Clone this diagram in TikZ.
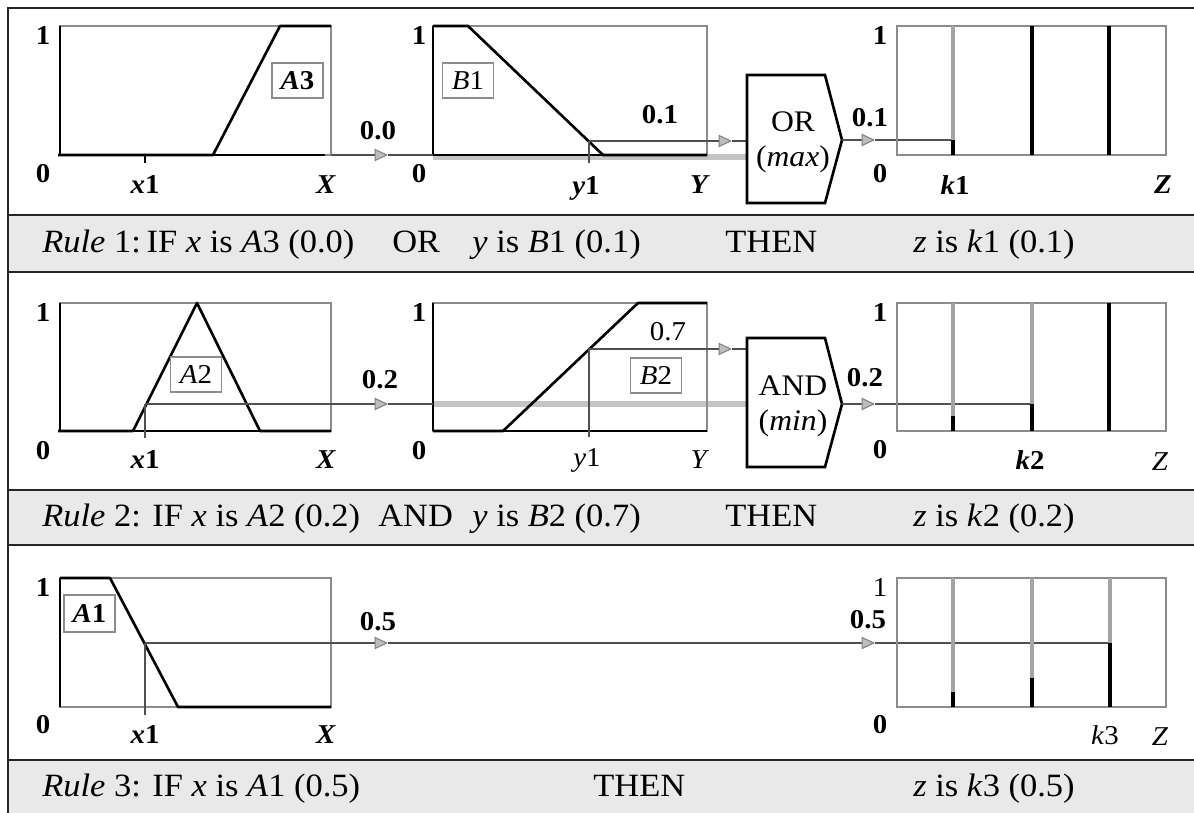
\documentclass[tikz,border=0pt]{standalone}
\usepackage{fontspec}
\setmainfont{Liberation Serif}
\usetikzlibrary{arrows.meta}
\newcommand{\wx}[1]{\scalebox{1.06}[1]{#1}}
\definecolor{bandgray}{HTML}{E9E9E9}
\definecolor{boxgray}{HTML}{8C8C8C}
\definecolor{singlegray}{HTML}{A4A4A4}
\definecolor{pathgray}{HTML}{C4C4C4}
\definecolor{tipgray}{HTML}{BDBDBD}
\definecolor{conngray}{HTML}{505050}
\tikzset{
  frameline/.style={draw=black!85,line width=1.6pt},
  plotbox/.style={draw=boxgray,line width=0.6pt},
  yaxis/.style={draw=black,line width=0.8pt},
  mf/.style={draw=black,line width=1.5pt,line join=round},
  thinaxis/.style={draw=black,line width=0.8pt},
  singg/.style={draw=singlegray,line width=2.4pt},
  singb/.style={draw=black,line width=2.4pt},
  conn/.style={draw=conngray,line width=0.6pt},
  flow/.style={conn,-{Triangle[length=0.27cm,width=0.25cm,fill=tipgray,color=gray]}},
  inband/.style={draw=pathgray,line width=3.2pt},
  gate/.style={draw=black,line width=1.5pt,line join=miter},
  lab/.style={inner sep=0pt,font=\fontsize{15.5}{17}\selectfont\bfseries},
  labr/.style={inner sep=0pt,font=\fontsize{15.5}{17}\selectfont},
  tagbox/.style={draw=boxgray,line width=0.6pt,inner sep=0pt,minimum width=1.02cm,minimum height=0.7cm,font=\fontsize{15.5}{18}\selectfont},
  gatetext/.style={align=center,inner sep=0pt,font=\fontsize{17}{20}\selectfont},
  bandtext/.style={anchor=base west,inner sep=0pt,font=\fontsize{18.5}{21}\selectfont}
}
\begin{document}
\begin{tikzpicture}[x=0.02cm,y=-0.02cm]
\useasboundingbox (0,0) rectangle (1194,813);
% bands
\fill[bandgray] (8,215) rectangle (1194,272);
\fill[bandgray] (8,490) rectangle (1194,545);
\fill[bandgray] (8,760) rectangle (1194,813);
\draw[frameline] (1194,8) -- (8,8) -- (8,813);
\foreach \yy in {215,272,490,545,760} \draw[frameline] (8,\yy) -- (1194,\yy);

% ================= ROW 1 =================
% A3 plot
\draw[plotbox] (60,26) rectangle (331,155);
\draw[yaxis] (60,26) -- (60,155);
\draw[thinaxis] (213,155) -- (325,155);
\draw[mf] (58,155) -- (213,155) -- (280,26) -- (331,26);
\draw[thinaxis] (145,155) -- (145,163);
\node[lab] (r1a1) at (43,36) {\wx{1}};
\node[lab] (r1a0) at (43,174) {\wx{0}};
\node[lab] (r1ax) at (145,185) {\wx{\textit{x}1}};
\node[lab] (r1aX) at (326,185) {\wx{\textit{X}}};
\node[tagbox] (tagA3) at (297.5,80.5) {\wx{\textbf{\textit{A}3}}};
% B1 plot
\draw[inband] (433,157) -- (747,157);
\draw[plotbox] (433,26) rectangle (707,155);
\draw[yaxis] (433,26) -- (433,155);
\draw[thinaxis] (433,155) -- (603,155);
\draw[mf] (433,26) -- (468,26) -- (603,155) -- (707,155);
\node[lab] (r1b1) at (419,36) {\wx{1}};
\node[lab] (r1b0) at (419,174) {\wx{0}};
\node[lab] (r1by) at (586,188) {\wx{\textit{y}1}};
\node[lab] (r1bY) at (700,185) {\wx{\textit{Y}}};
\node[tagbox] (tagB1) at (468,80.5) {\wx{\textit{B}1}};
\coordinate (r1ain) at (331,155);
\coordinate (r1atip) at (388,155);
\coordinate (r1bleft) at (433,155);
\coordinate (r1yfoot) at (589,163);
\coordinate (r1ycut) at (589,141);
\coordinate (r1btip) at (732,141);
\coordinate (orin) at (747,141);
\draw[flow] (r1ain) -- (r1atip);
\draw[conn] (r1atip) -- (r1bleft);
\draw[conn] (r1yfoot) -- (r1ycut);
\draw[flow] (r1ycut) -- (r1btip);
\draw[conn] (r1btip) -- (orin);
\node[lab] (v00) at (378,131) {\wx{0.0}};
\node[lab] (v01a) at (660,115) {\wx{0.1}};
% OR gate
\draw[gate] (747,75) -- (825,75) -- (842,140) -- (825,203) -- (747,203) -- cycle;
\node[gatetext] (orgate) at (793,142) {\wx{OR}\\\wx{(\textit{max})}};
\coordinate (orout) at (842,140);
\coordinate (ortip) at (875,140);
\coordinate (k1cut) at (953,140);
\draw[flow] (orout) -- (ortip);
\draw[conn] (ortip) -- (k1cut);
\node[lab] (v01b) at (870,118) {\wx{0.1}};
% Z plot
\draw[plotbox] (897,26) rectangle (1166,155);
\draw[singg] (953,26) -- (953,140);
\draw[singb] (953,140) -- (953,155);
\draw[singb] (1032,26) -- (1032,155);
\draw[singb] (1109,26) -- (1109,155);
\node[lab] (r1z1) at (880,36) {\wx{1}};
\node[lab] (r1z0) at (880,174) {\wx{0}};
\node[lab] (r1k) at (955,185) {\wx{\textit{k}1}};
\node[lab] (r1Z) at (1163,185) {\wx{\textit{Z}}};
% band text
\node[bandtext] (t1a) at (42,253) {\wx{\textit{Rule} 1:\,IF \textit{x} is \textit{A}3 (0.0)}};
\node[bandtext] (t1b) at (392,253) {\wx{OR}};
\node[bandtext] (t1c) at (472,253) {\wx{\textit{y} is \textit{B}1 (0.1)}};
\node[bandtext] (t1d) at (725,253) {\wx{THEN}};
\node[bandtext] (t1e) at (913,253) {\wx{\textit{z} is \textit{k}1 (0.1)}};

% ================= ROW 2 =================
\draw[plotbox] (60,303) rectangle (331,431);
\draw[yaxis] (60,303) -- (60,431);
\draw[thinaxis] (133,431) -- (260,431);
\draw[mf] (58,431) -- (133,431) -- (197,303) -- (260,431) -- (331,431);
\node[lab] (r2a1) at (43,313) {\wx{1}};
\node[lab] (r2a0) at (43,451) {\wx{0}};
\node[lab] (r2ax) at (145,460) {\wx{\textit{x}1}};
\node[lab] (r2aX) at (326,460) {\wx{\textit{X}}};
\node[tagbox] (tagA2) at (196,374.5) {\wx{\textit{A}2}};
% B2 plot
\draw[inband] (433,404) -- (747,404);
\draw[plotbox] (433,303) rectangle (707,431);
\draw[yaxis] (433,303) -- (433,431);
\draw[thinaxis] (503,431) -- (707,431);
\draw[mf] (433,431) -- (503,431) -- (638,303) -- (707,303);
\node[lab] (r2b1) at (419,313) {\wx{1}};
\node[lab] (r2b0) at (419,451) {\wx{0}};
\node[labr] (r2by) at (587,460) {\wx{\textit{y}1}};
\node[labr] (r2bY) at (700,460) {\wx{\textit{Y}}};
\node[tagbox] (tagB2) at (656,375.5) {\wx{\textit{B}2}};
\coordinate (r2xfoot) at (145,438);
\coordinate (r2xcut) at (145,404);
\coordinate (r2atip) at (388,404);
\coordinate (r2bleft) at (433,404);
\coordinate (r2yfoot) at (589,437);
\coordinate (r2ycut) at (589,349);
\coordinate (r2btip) at (732,349);
\coordinate (andin) at (747,349);
\draw[conn] (r2xfoot) -- (r2xcut);
\draw[flow] (r2xcut) -- (r2atip);
\draw[conn] (r2atip) -- (r2bleft);
\draw[conn] (r2yfoot) -- (r2ycut);
\draw[flow] (r2ycut) -- (r2btip);
\draw[conn] (r2btip) -- (andin);
\node[lab] (v02a) at (380,380) {\wx{0.2}};
\node[labr] (v07) at (668,332) {\wx{0.7}};
% AND gate
\draw[gate] (747,338) -- (825,338) -- (842,404) -- (825,467) -- (747,467) -- cycle;
\node[gatetext] (andgate) at (793,406) {\wx{AND}\\\wx{(\textit{min})}};
\coordinate (andout) at (842,404);
\coordinate (andtip) at (875,404);
\coordinate (k2cut) at (1032,404);
\draw[flow] (andout) -- (andtip);
\draw[conn] (andtip) -- (k2cut);
\node[lab] (v02b) at (865,378) {\wx{0.2}};
% Z plot
\draw[plotbox] (897,303) rectangle (1166,431);
\draw[singg] (953,303) -- (953,416);
\draw[singb] (953,416) -- (953,431);
\draw[singg] (1032,303) -- (1032,404);
\draw[singb] (1032,404) -- (1032,431);
\draw[singb] (1109,303) -- (1109,431);
\node[lab] (r2z1) at (880,313) {\wx{1}};
\node[lab] (r2z0) at (880,450) {\wx{0}};
\node[lab] (r2k) at (1030,460) {\wx{\textit{k}2}};
\node[labr] (r2Z) at (1160,462) {\wx{\textit{Z}}};
% band text
\node[bandtext] (t2a) at (42,527) {\wx{\textit{Rule} 2: IF \textit{x} is \textit{A}2 (0.2)}};
\node[bandtext] (t2b) at (378,527) {\wx{AND}};
\node[bandtext] (t2c) at (472,527) {\wx{\textit{y} is \textit{B}2 (0.7)}};
\node[bandtext] (t2d) at (725,527) {\wx{THEN}};
\node[bandtext] (t2e) at (913,527) {\wx{\textit{z} is \textit{k}2 (0.2)}};

% ================= ROW 3 =================
\draw[plotbox] (60,578) rectangle (331,707);
\draw[yaxis] (60,578) -- (60,707);
\draw[mf] (60,578) -- (110,578) -- (178,707) -- (331,707);
\node[lab] (r3a1) at (43,588) {\wx{1}};
\node[lab] (r3a0) at (43,725) {\wx{0}};
\node[lab] (r3ax) at (145,735) {\wx{\textit{x}1}};
\node[lab] (r3aX) at (326,735) {\wx{\textit{X}}};
\node[tagbox,minimum height=0.74cm] (tagA1) at (89.5,613.5) {\wx{\textbf{\textit{A}1}}};
\coordinate (r3xfoot) at (145,715);
\coordinate (r3xcut) at (145,643);
\coordinate (r3atip) at (388,643);
\coordinate (r3ztip) at (875,643);
\coordinate (k3cut) at (1110,643);
\draw[conn] (r3xfoot) -- (r3xcut);
\draw[flow] (r3xcut) -- (r3atip);
\draw[flow] (r3atip) -- (r3ztip);
\draw[conn] (r3ztip) -- (k3cut);
\node[lab] (v05a) at (378,622) {\wx{0.5}};
\node[lab] (v05b) at (868,620) {\wx{0.5}};
% Z plot
\draw[plotbox] (897,578) rectangle (1166,707);
\draw[singg] (953,578) -- (953,692);
\draw[singb] (953,692) -- (953,707);
\draw[singg] (1032,578) -- (1032,678);
\draw[singb] (1032,678) -- (1032,707);
\draw[singg] (1110,578) -- (1110,643);
\draw[singb] (1110,643) -- (1110,707);
\node[labr] (r3z1) at (880,588) {\wx{1}};
\node[lab] (r3z0) at (880,725) {\wx{0}};
\node[labr] (r3k) at (1105,735) {\wx{\textit{k}3}};
\node[labr] (r3Z) at (1160,737) {\wx{\textit{Z}}};
% band text
\node[bandtext] (t3a) at (42,797) {\wx{\textit{Rule} 3: IF \textit{x} is \textit{A}1 (0.5)}};
\node[bandtext] (t3b) at (593,797) {\wx{THEN}};
\node[bandtext] (t3c) at (913,797) {\wx{\textit{z} is \textit{k}3 (0.5)}};
\end{tikzpicture}
\end{document}
